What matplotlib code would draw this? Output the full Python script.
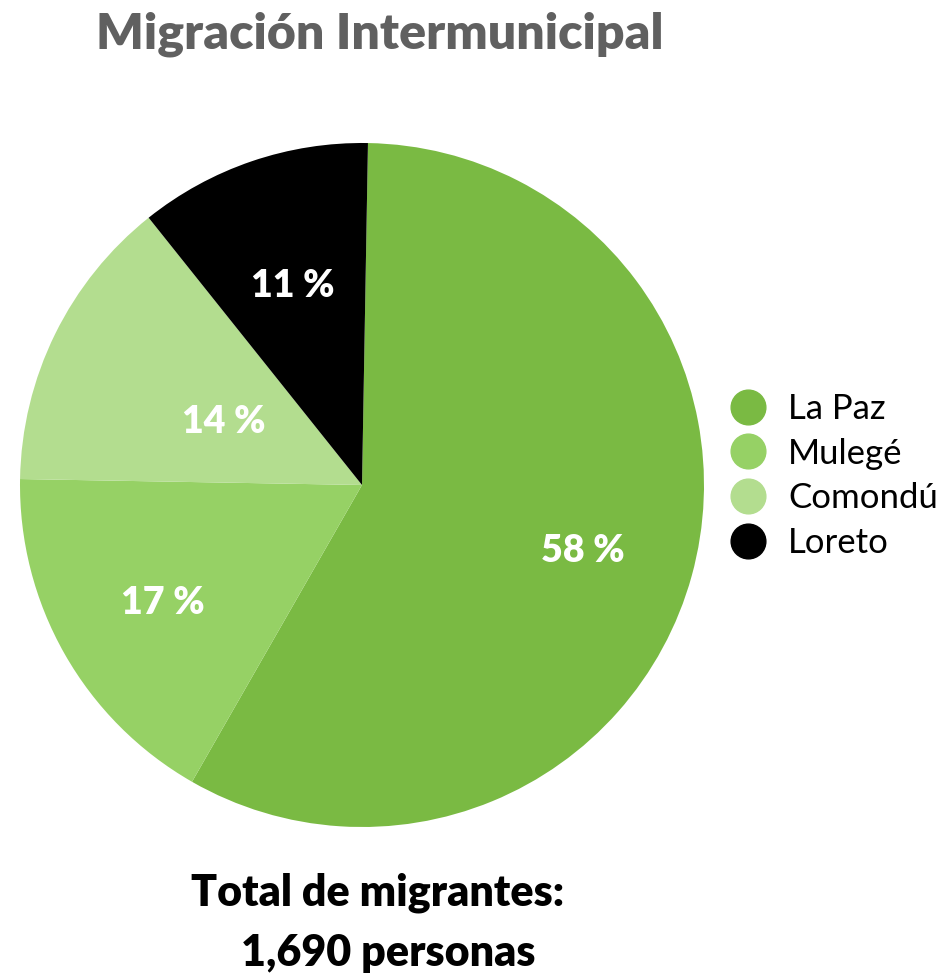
import numpy as np
import matplotlib
matplotlib.use("Agg")
import matplotlib.pyplot as plt
from matplotlib.lines import Line2D

plt.rcParams["font.family"] = ["Lato", "DejaVu Sans"]

# data
municipios = ["La Paz", "Mulegé", "Comondú", "Loreto"]
porcentajes = [58, 17, 14, 11]
colores = ["#7aba43", "#96d165", "#b3dd8f", "#000000"]
titulo = "Migración Intermunicipal"
total_texto = ["Total de migrantes:", "1,690 personas"]

fig = plt.figure(figsize=(9.43, 9.77), dpi=100)

# pie axes, centre around (362, 485) px, radius ~342 px
ax = fig.add_axes([20 / 943, 1 - 827 / 977, 684 / 943, 684 / 977])
wedges, _ = ax.pie(porcentajes, colors=colores, startangle=89, counterclock=False,
                   radius=1, wedgeprops=dict(linewidth=0))
ax.set_xlim(-1, 1)
ax.set_ylim(-1, 1)
ax.set_aspect("equal")
ax.axis("off")

# label positions (fraction of radius)
label_dist = [0.67, 0.67, 0.45, 0.63]
for w, p, d in zip(wedges, porcentajes, label_dist):
    ang = np.deg2rad((w.theta1 + w.theta2) / 2)
    ax.text(d * np.cos(ang), d * np.sin(ang) - 0.015, f"{p} %", color="white",
            fontsize=27, fontweight="heavy", ha="center", va="center")

fig.text(380 / 943, 1 - 34 / 977, titulo, color="#606060", fontsize=36,
         fontweight="heavy", ha="center", va="center")

handles = [Line2D([], [], marker="o", linestyle="", markersize=25,
                  markerfacecolor=c, markeredgecolor=c) for c in colores]
fig.legend(handles, municipios, loc="center left",
           bbox_to_anchor=(731 / 943, 1 - 476 / 977), frameon=False,
           fontsize=25, handlelength=1.0, handletextpad=0.65,
           labelspacing=0.37, borderpad=0, borderaxespad=0)

fig.text(378 / 943, 1 - 893 / 977, total_texto[0], fontsize=31,
         fontweight="heavy", ha="center", va="center")
fig.text(388 / 943, 1 - 953 / 977, total_texto[1], fontsize=31,
         fontweight="heavy", ha="center", va="center")

fig.savefig("out.png", dpi=100, facecolor="white")
